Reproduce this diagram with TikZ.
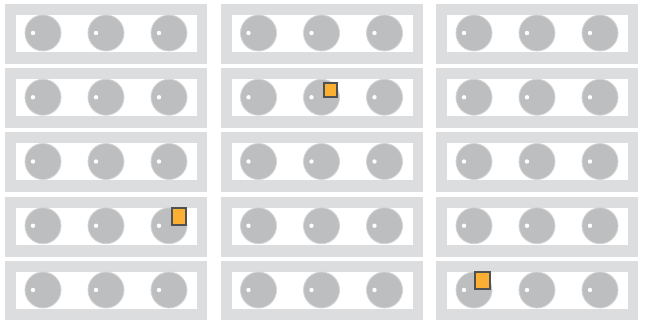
\documentclass[tikz,border=0pt]{standalone}
\definecolor{panelgray}{HTML}{DCDDDE}
\definecolor{discgray}{HTML}{BCBEC0}
\definecolor{discedge}{HTML}{D4D5D7}
\definecolor{markfill}{HTML}{FBB034}
\definecolor{markedge}{HTML}{505153}
\begin{document}
\begin{tikzpicture}[x=1pt,y=-1pt,
  panel/.style={fill=panelgray,draw=none},
  window/.style={fill=white,draw=none},
  disc/.style={circle,fill=discgray,draw=discedge,line width=0.8pt,minimum size=36pt,inner sep=0pt},
  hole/.style={circle,fill=white,draw=none,minimum size=4.4pt,inner sep=0pt},
  marker/.style={rectangle,fill=markfill,draw=markedge,line width=2pt,inner sep=0pt}]
\useasboundingbox (0,0) rectangle (645,320);
\foreach \i in {0,1,2}{
  \foreach \j in {0,...,4}{
    \pgfmathsetmacro{\xo}{5+215.5*\i}
    \pgfmathsetmacro{\yo}{4+64.25*\j}
    \fill[panel] (\xo,\yo) rectangle ++(202,60);
    \fill[window] (\xo+11,\yo+11) rectangle (\xo+192,\yo+48);
    \foreach \k/\dx in {0/38,1/101,2/164}{
      \node[disc] (d-\i-\j-\k) at (\xo+\dx,\yo+29) {};
      \node[hole] (h-\i-\j-\k) at (\xo+\dx-10,\yo+29) {};
    }
  }
}
\node[marker,minimum width=13pt,minimum height=14pt] (m1) at (330,89.7) {};
\node[marker,minimum width=13.5pt,minimum height=16.5pt] (m2) at (178.8,216.5) {};
\node[marker,minimum width=14.5pt,minimum height=17.3pt] (m3) at (482.3,280.3) {};
\end{tikzpicture}
\end{document}
